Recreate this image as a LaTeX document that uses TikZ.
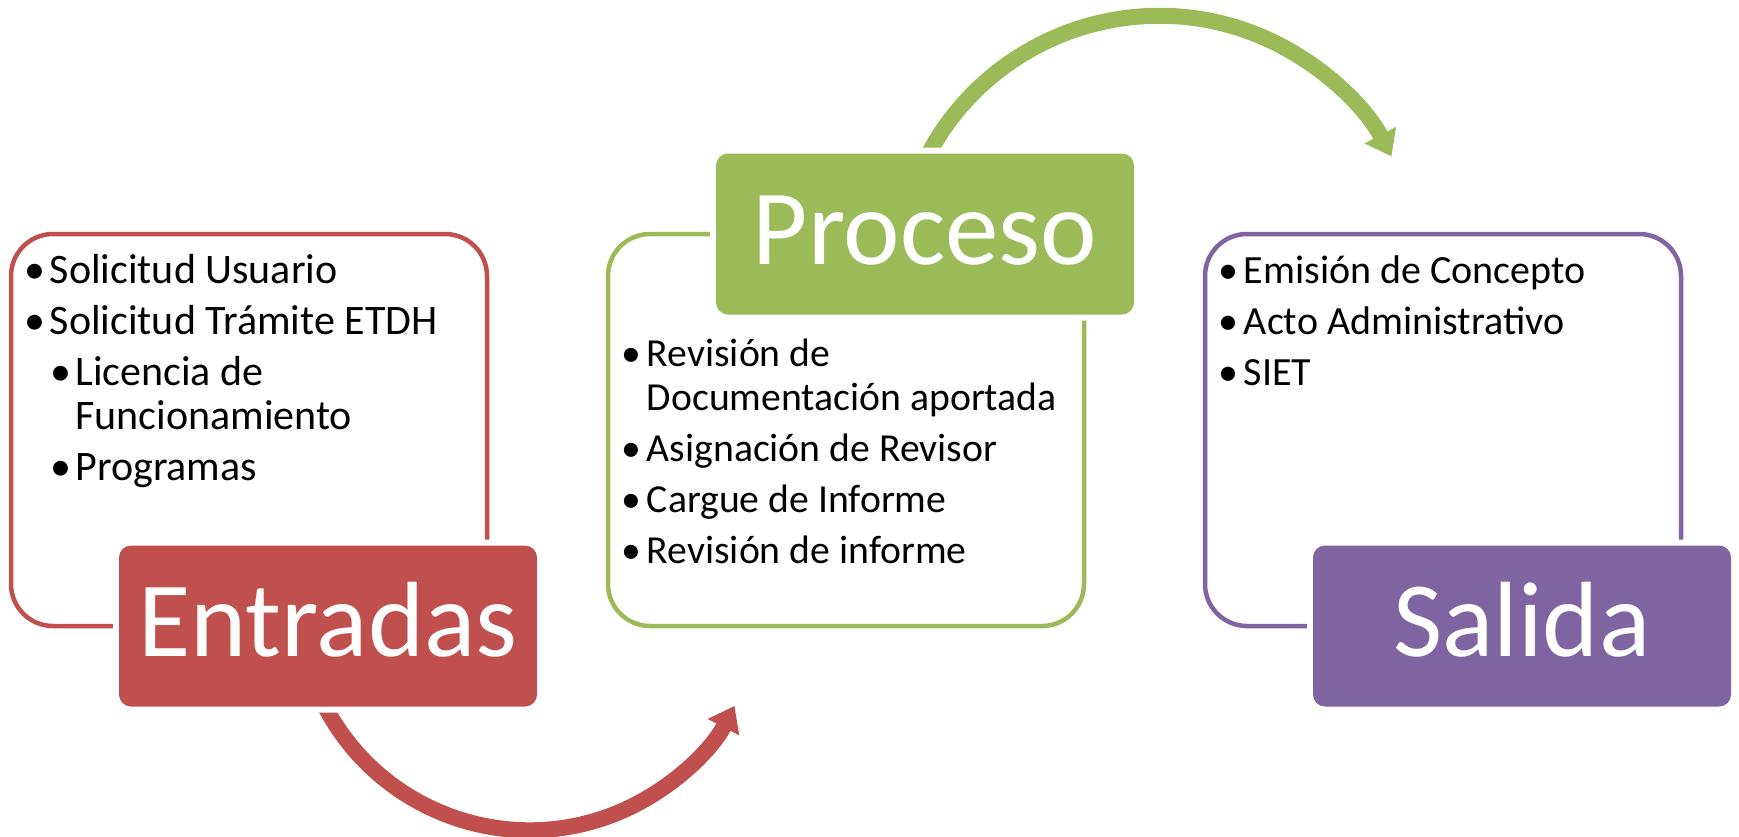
\documentclass[tikz,border=0pt]{standalone}
\usepackage{fontspec}
\setmainfont{Carlito}
\usetikzlibrary{arrows.meta,positioning}
\definecolor{rojo}{HTML}{C0504D}
\definecolor{verde}{HTML}{9BBB59}
\definecolor{morado}{HTML}{8064A2}
\pgfdeclarelayer{background}
\pgfsetlayers{background,main}
\newcommand{\itm}[1]{\strut\makebox[22.4pt][l]{\hspace{-3pt}\textbullet}#1}

\begin{document}
\begin{tikzpicture}[x=1pt,y=1pt]
	\useasboundingbox (0,0) rectangle (1739,-836);

	\begin{scope}[every node/.style={draw,line width=4.5pt,rounded corners=42pt,
	              minimum width=476pt,minimum height=392pt,outer sep=0pt},
	              node distance=121pt]
	    \node[draw=rojo] (entradasbox) at (249,-430) {};
	    \node[draw=verde,right=of entradasbox] (procesobox) {};
	    \node[draw=morado,right=of procesobox] (salidabox) {};
	\end{scope}

	\begin{scope}[every node/.style={anchor=west,rounded corners=12pt,inner sep=0pt,outer sep=0pt,
	              minimum width=418pt,minimum height=161pt,text height=61pt,text depth=0pt,
	              text=white,font=\fontsize{107}{128}\selectfont,
	              preaction={draw=white,line width=12pt}}]
	    \node[fill=rojo] (entradas) at ([xshift=108pt]entradasbox.south west) {Entradas};
	    \node[fill=verde] (proceso) at ([xshift=108pt]procesobox.north west) {Proceso};
	    \node[fill=morado] (salida) at ([xshift=108pt]salidabox.south west) {Salida};
	\end{scope}

	\begin{scope}[every node/.style={anchor=north west,align=left,inner sep=0pt}]
	    \node[font=\fontsize{42}{44}\selectfont] (entradaslist)
	        at ([shift={(16.3pt,-18pt)}]entradasbox.north west)
	        {\itm{Solicitud Usuario}\\[7pt]
	         \itm{Solicitud Trámite ETDH}\\[7pt]
	         \hspace*{25.5pt}\itm{Licencia de}\\
	         \hspace*{47.9pt}Funcionamiento\\[7pt]
	         \hspace*{25.5pt}\itm{Programas}};
	    \node[font=\fontsize{39.7}{44}\selectfont] (procesolist)
	        at ([shift={(16.3pt,-101pt)}]procesobox.north west)
	        {\itm{Revisión de}\\
	         \hspace*{22.4pt}Documentación aportada\\[7pt]
	         \itm{Asignación de Revisor}\\[7pt]
	         \itm{Cargue de Informe}\\[7pt]
	         \itm{Revisión de informe}};
	    \node[font=\fontsize{40}{44}\selectfont] (salidalist)
	        at ([shift={(16.3pt,-18pt)}]salidabox.north west)
	        {\itm{Emisión de Concepto}\\[7pt]
	         \itm{Acto Administrativo}\\[7pt]
	         \itm{SIET}};
	\end{scope}

	\begin{pgfonlayer}{background}
	    \draw[rojo,line width=16pt,-{Triangle[width=34pt,length=24pt]}]
	        ([shift={(-6pt,6pt)}]entradas.south) arc[start angle=-154,end angle=-27.5,radius=231pt];
	    \draw[verde,line width=16pt,-{Triangle[width=34pt,length=24pt]}]
	        ([yshift=-7pt]proceso.north) arc[start angle=153.4,end angle=27.6,radius=262pt];
	\end{pgfonlayer}
\end{tikzpicture}
\end{document}
